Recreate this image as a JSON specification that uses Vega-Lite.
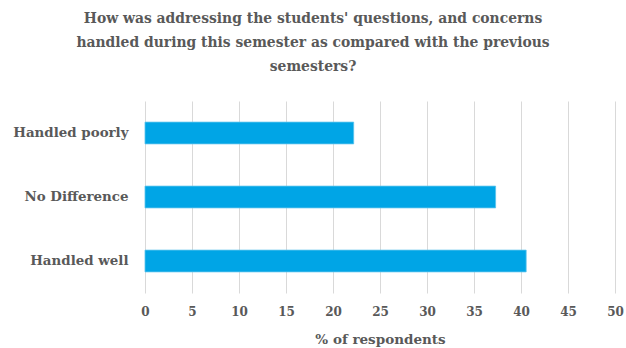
{
  "$schema": "https://vega.github.io/schema/vega-lite/v6.json",
  "autosize": "none",
  "width": 470,
  "height": 192,
  "padding": {"left": 145, "top": 101, "right": 11, "bottom": 55},
  "background": "white",
  "title": {
    "text": ["How was addressing the students' questions, and concerns", "handled during this semester as compared with the previous", "semesters?"],
    "font": "DejaVu Serif",
    "fontSize": 13.9,
    "fontWeight": "bold",
    "color": "#595959",
    "lineHeight": 24,
    "anchor": "middle",
    "frame": "group",
    "dx": -67,
    "offset": 27
  },
  "data": {
    "values": [
      {"response": "Handled poorly", "pct": 22.2},
      {"response": "No Difference", "pct": 37.3},
      {"response": "Handled well", "pct": 40.55}
    ]
  },
  "mark": {"type": "bar", "color": "#00A5E6", "stroke": "#5BC3EC", "strokeWidth": 0.8},
  "encoding": {
    "y": {
      "field": "response",
      "type": "nominal",
      "sort": ["Handled poorly", "No Difference", "Handled well"],
      "scale": {"paddingInner": 0.66, "paddingOuter": 0.33},
      "axis": {
        "title": null,
        "domain": false,
        "ticks": false,
        "labelFont": "DejaVu Serif",
        "labelFontSize": 13.4,
        "labelFontWeight": "bold",
        "labelColor": "#595959",
        "labelPadding": 17
      }
    },
    "x": {
      "field": "pct",
      "type": "quantitative",
      "scale": {"domain": [0, 50], "nice": false},
      "axis": {
        "title": "% of respondents",
        "values": [0, 5, 10, 15, 20, 25, 30, 35, 40, 45, 50],
        "domain": false,
        "ticks": false,
        "grid": true,
        "gridColor": "#D9D9D9",
        "gridWidth": 1,
        "labelFlush": false,
        "labelFont": "DejaVu Serif",
        "labelFontSize": 12,
        "labelFontWeight": "bold",
        "labelColor": "#595959",
        "labelPadding": 13,
        "titleFont": "DejaVu Serif",
        "titleFontSize": 13.5,
        "titleFontWeight": "bold",
        "titleColor": "#595959",
        "titlePadding": 15
      }
    }
  },
  "config": {"view": {"stroke": null}}
}
